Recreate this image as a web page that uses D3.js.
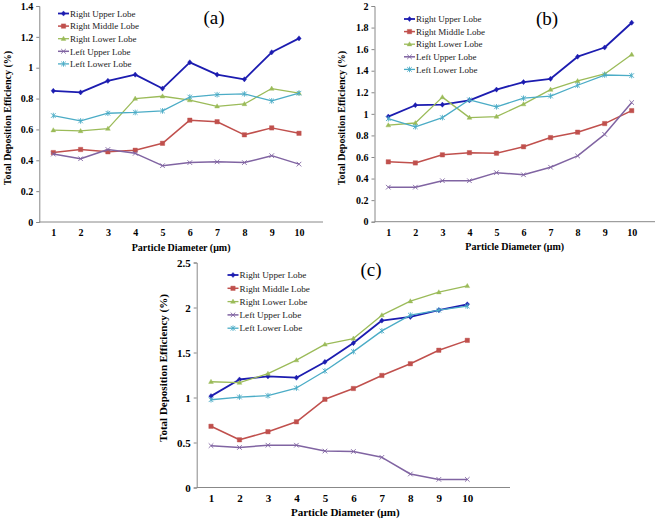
<!DOCTYPE html>
<html><head><meta charset="utf-8">
<script src="https://cdn.jsdelivr.net/npm/d3@7"></script>
<style>
body{margin:0;background:#fff}svg{display:block}
svg text{font-family:"Liberation Serif","Times New Roman","DejaVu Serif",serif !important;}
</style>
</head><body>
<svg id="c" width="660" height="519"></svg>
<script>
// ---------- DATA ----------
const diameters = [1,2,3,4,5,6,7,8,9,10];
const seriesNames = ["Right Upper Lobe","Right Middle Lobe","Right Lower Lobe","Left Upper Lobe","Left Lower Lobe"];
const panelLabels = ["(a)","(b)","(c)"];
const yTicksA = [0,0.2,0.4,0.6,0.8,1,1.2,1.4];
const yTicksB = [0,0.2,0.4,0.6,0.8,1,1.2,1.4,1.6,1.8,2];
const yTicksC = [0,0.5,1,1.5,2,2.5];
const xTitle = "Particle Diameter (\u03bcm)";
const yTitle = "Total Deposition Efficiency (%)";

const a_rightUpper  = [0.85,0.84,0.915,0.955,0.865,1.035,0.955,0.925,1.10,1.19];
const a_rightMiddle = [0.45,0.47,0.455,0.465,0.51,0.66,0.65,0.565,0.61,0.575];
const a_rightLower  = [0.595,0.59,0.605,0.80,0.815,0.79,0.75,0.765,0.865,0.835];
const a_leftUpper   = [0.44,0.41,0.47,0.445,0.365,0.385,0.39,0.385,0.43,0.375];
const a_leftLower   = [0.69,0.655,0.705,0.71,0.72,0.81,0.825,0.83,0.785,0.835];

const b_rightUpper  = [0.975,1.08,1.085,1.125,1.225,1.295,1.325,1.53,1.615,1.845];
const b_rightMiddle = [0.555,0.545,0.62,0.64,0.635,0.695,0.78,0.83,0.91,1.03];
const b_rightLower  = [0.895,0.915,1.155,0.965,0.975,1.09,1.225,1.305,1.37,1.55];
const b_leftUpper   = [0.32,0.32,0.38,0.38,0.455,0.435,0.505,0.61,0.81,1.105];
const b_leftLower   = [0.955,0.88,0.965,1.13,1.065,1.145,1.165,1.265,1.36,1.355];

const c_rightUpper  = [1.015,1.20,1.235,1.22,1.395,1.605,1.855,1.895,1.97,2.035];
const c_rightMiddle = [0.68,0.53,0.62,0.73,0.98,1.10,1.245,1.375,1.525,1.635];
const c_rightLower  = [1.175,1.165,1.265,1.415,1.59,1.655,1.915,2.07,2.17,2.24];
const c_leftUpper   = [0.465,0.445,0.47,0.47,0.405,0.40,0.335,0.15,0.09,0.09];
const c_leftLower   = [0.975,1.005,1.02,1.105,1.295,1.51,1.74,1.915,1.97,2.015];

// ---------- STYLE / LAYOUT ----------
const colors = ["#1c1cb0","#c0504d","#9bbb59","#8064a2","#4bacc6"];
const widths = [1.8,1.5,1.3,1.5,1.3];
const markers = ["diamond","square","triangle","x","star"];
const FONT = "'Liberation Serif','Times New Roman','DejaVu Serif',serif";

const panels = [
  {series:[a_rightUpper,a_rightMiddle,a_rightLower,a_leftUpper,a_leftLower], ticks:yTicksA, yMax:1.4,
   axisX:39.3, x1:53.3, x10:299, xEnd:323, yTop:6, yBot:222, fs:10, titleX:7, titleY:118,
   lab:[214,24], legX:58, legY:13.5, legDy:12.6, legFs:9},
  {series:[b_rightUpper,b_rightMiddle,b_rightLower,b_leftUpper,b_leftLower], ticks:yTicksB, yMax:2,
   axisX:374.5, x1:388.3, x10:631.7, xEnd:655, yTop:6, yBot:221.7, fs:10, titleX:341.7, titleY:118,
   lab:[547,25], legX:404, legY:19, legDy:12.6, legFs:9},
  {series:[c_rightUpper,c_rightMiddle,c_rightLower,c_leftUpper,c_leftLower], ticks:yTicksC, yMax:2.5,
   axisX:196.7, x1:211, x10:467.3, xEnd:510, yTop:262.5, yBot:487.5, fs:11, titleX:163.3, titleY:368,
   lab:[371,276], legX:227.5, legY:275, legDy:13.3, legFs:9.2}
];

const svg = d3.select("#c");
const fmt = d => String(+d.toFixed(1));

function markerPath(type){
  switch(type){
    case "diamond": return "M0,-2.6L2.2,0L0,2.6L-2.2,0Z";
    case "square": return "M-2.2,-2.2H2.2V2.2H-2.2Z";
    case "triangle": return "M0,-2.5L2.4,1.7H-2.4Z";
    case "x": return "M-2.3,-2.3L2.3,2.3M-2.3,2.3L2.3,-2.3";
    case "star": return "M-2.3,-2.3L2.3,2.3M-2.3,2.3L2.3,-2.3M0,-2.8L0,2.8";
  }
}
function drawMarker(g, type, color, x, y){
  const filled = type==="diamond"||type==="square"||type==="triangle";
  g.append("path").attr("d", markerPath(type)).attr("transform",`translate(${x},${y})`)
    .attr("fill", filled?color:"none").attr("stroke", color).attr("stroke-width", filled?0.4:0.9);
}

panels.forEach((p,pi)=>{
  const g = svg.append("g");
  const x = d3.scaleLinear().domain([1,10]).range([p.x1,p.x10]);
  const y = d3.scaleLinear().domain([0,p.yMax]).range([p.yBot,p.yTop]);

  const ya = g.append("g").attr("transform",`translate(${p.axisX},0)`)
    .call(d3.axisLeft(y).tickValues(p.ticks).tickFormat(fmt).tickSize(3).tickPadding(3));
  ya.attr("font-family",FONT);
  ya.select(".domain").attr("stroke","#888");
  ya.selectAll(".tick line").attr("stroke","#888");
  ya.selectAll("text").attr("font-family",FONT)
    .attr("font-weight","bold").attr("font-size",p.fs).attr("fill","#000");

  const xa = g.append("g").attr("transform",`translate(0,${p.yBot})`)
    .call(d3.axisBottom(x).tickValues(diameters).tickFormat(d3.format("d")).tickSize(0).tickPadding(7));
  xa.attr("font-family",FONT);
  xa.select(".domain").remove();
  xa.selectAll("text").attr("font-family",FONT)
    .attr("font-weight","bold").attr("font-size",p.fs).attr("fill","#000");
  g.append("line").attr("x1",p.axisX).attr("x2",p.xEnd).attr("y1",p.yBot).attr("y2",p.yBot)
    .attr("stroke","#888");

  g.append("text").attr("x",(p.axisX+p.xEnd)/2 - (pi===2?8:0) ).attr("y",p.yBot+28.5)
    .attr("text-anchor","middle").attr("font-family",FONT)
    .attr("font-weight","bold").attr("font-size",p.fs).text(xTitle);
  g.append("text").attr("transform",`translate(${p.titleX+3.5},${p.titleY}) rotate(-90)`)
    .attr("text-anchor","middle").attr("font-family",FONT)
    .attr("font-weight","bold").attr("font-size",p.fs).text(yTitle);
  g.append("text").attr("x",p.lab[0]).attr("y",p.lab[1]).attr("text-anchor","middle")
    .attr("font-family",FONT).attr("font-size",19).text(panelLabels[pi]);

  const line = d3.line().x((d,i)=>x(diameters[i])).y(d=>y(d));
  p.series.forEach((s,si)=>{
    g.append("path").datum(s).attr("d",line).attr("fill","none")
      .attr("stroke",colors[si]).attr("stroke-width",widths[si]).attr("stroke-linejoin","round");
    s.forEach((v,i)=>drawMarker(g, markers[si], colors[si], x(diameters[i]), y(v)));
  });

  seriesNames.forEach((name,si)=>{
    const ly = p.legY + si*p.legDy;
    g.append("line").attr("x1",p.legX).attr("x2",p.legX+11).attr("y1",ly).attr("y2",ly)
      .attr("stroke",colors[si]).attr("stroke-width",widths[si]);
    drawMarker(g, markers[si], colors[si], p.legX+5.5, ly);
    g.append("text").attr("x",p.legX+12).attr("y",ly+3.2)
      .attr("font-family",FONT).attr("font-size",p.legFs)
      .attr("fill","#222").text(name);
  });
});
</script>
</body></html>
